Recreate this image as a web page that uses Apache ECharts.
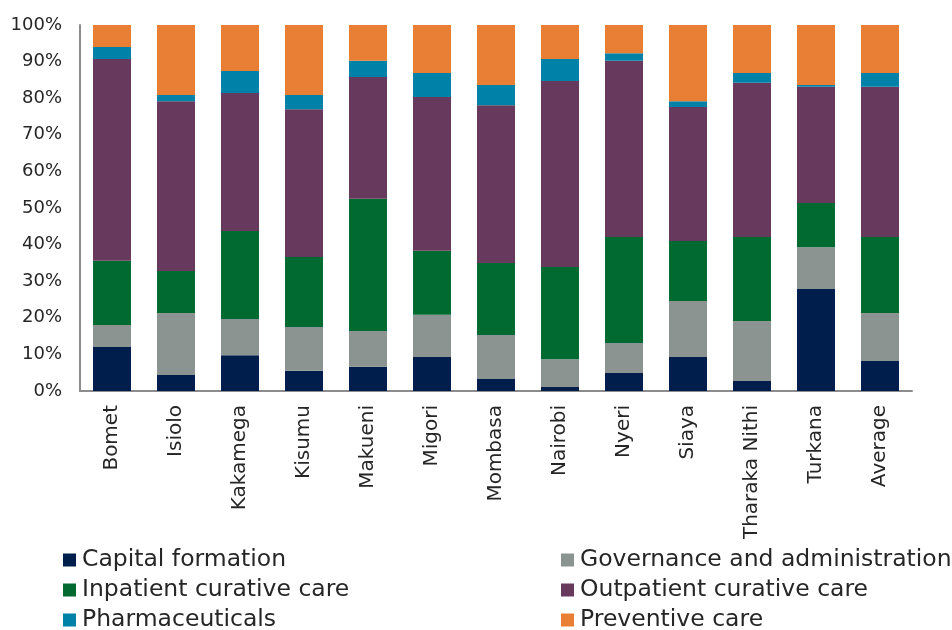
<!DOCTYPE html>
<html><head><meta charset="utf-8">
<script src="https://cdn.jsdelivr.net/npm/echarts@6/dist/echarts.min.js"></script>
<style>html,body{margin:0;padding:0;background:#fff}#c{width:952px;height:630px}</style>
</head><body><div id="c"></div>
<script>
const categories = ["Bomet","Isiolo","Kakamega","Kisumu","Makueni","Migori","Mombasa","Nairobi","Nyeri","Siaya","Tharaka Nithi","Turkana","Average"];
const capitalFormation = [12.0, 4.4, 9.8, 5.5, 6.6, 9.3, 3.3, 1.1, 4.9, 9.3, 2.7, 27.9, 8.2];
const governance =       [6.0, 16.9, 9.9, 12.0, 9.8, 11.5, 12.0, 7.6, 8.2, 15.3, 16.4, 11.4, 13.1];
const inpatient =        [17.6, 11.5, 24.0, 19.1, 36.1, 17.5, 19.7, 25.2, 29.0, 16.4, 23.0, 12.1, 20.8];
const outpatient =       [55.1, 46.4, 37.7, 40.4, 33.3, 42.0, 43.1, 50.8, 48.1, 36.6, 42.1, 31.7, 41.0];
const pharmaceuticals =  [3.3, 1.7, 6.0, 3.9, 4.4, 6.6, 5.5, 6.0, 2.1, 1.6, 2.7, 0.5, 3.8];
const preventive =       [6.0, 19.1, 12.6, 19.1, 9.8, 13.1, 16.4, 9.3, 7.7, 20.8, 13.1, 16.4, 13.1];
const yTicks = [0,10,20,30,40,50,60,70,80,90,100];

const names = ["Capital formation","Governance and administration","Inpatient curative care","Outpatient curative care","Pharmaceuticals","Preventive care"];
const colors = ["#001E4B","#8C9491","#006A30","#673A5D","#0081A8","#E87F34"];
const dataSets = [capitalFormation, governance, inpatient, outpatient, pharmaceuticals, preventive];
const FONT = "DejaVu Sans";

const chart = echarts.init(document.getElementById('c'), null, {renderer:'canvas'});
// legend grid: two columns, three rows (left column: 0,2,4; right column: 1,3,5)
const legendLefts = [63, 561];
const legendTops = [547, 577, 607];
const legends = names.map((n,i)=>({
  orient:'horizontal', icon:'rect', itemWidth:13, itemHeight:13, padding:0,
  left: legendLefts[i%2], top: legendTops[Math.floor(i/2)],
  textStyle:{fontFamily:FONT, fontSize:23.5, color:'#262626', lineHeight:26, padding:[0,0,0,1]},
  selectedMode:false, data:[n]
}));
chart.setOption({
  animation:false,
  color: colors,
  grid:{left:80, right:40, top:25, bottom:239},
  legend: legends,
  xAxis:{
    type:'category', data:categories,
    axisLine:{lineStyle:{color:'#8c8c8c', width:2}},
    axisTick:{show:false},
    axisLabel:{rotate:90, margin:14, fontFamily:FONT, fontSize:20, color:'#262626', interval:0}
  },
  yAxis:{
    type:'value', min:yTicks[0], max:yTicks[yTicks.length-1], interval:10,
    axisLine:{show:true, lineStyle:{color:'#8c8c8c', width:2}},
    axisTick:{show:false},
    splitLine:{show:false},
    axisLabel:{formatter:'{value}%', margin:18, fontFamily:FONT, fontSize:18, color:'#262626'}
  },
  series: dataSets.map((d,i)=>({
    name:names[i], type:'bar', stack:'total', data:d, barWidth:38,
    itemStyle:{color:colors[i]}
  }))
});
</script></body></html>
